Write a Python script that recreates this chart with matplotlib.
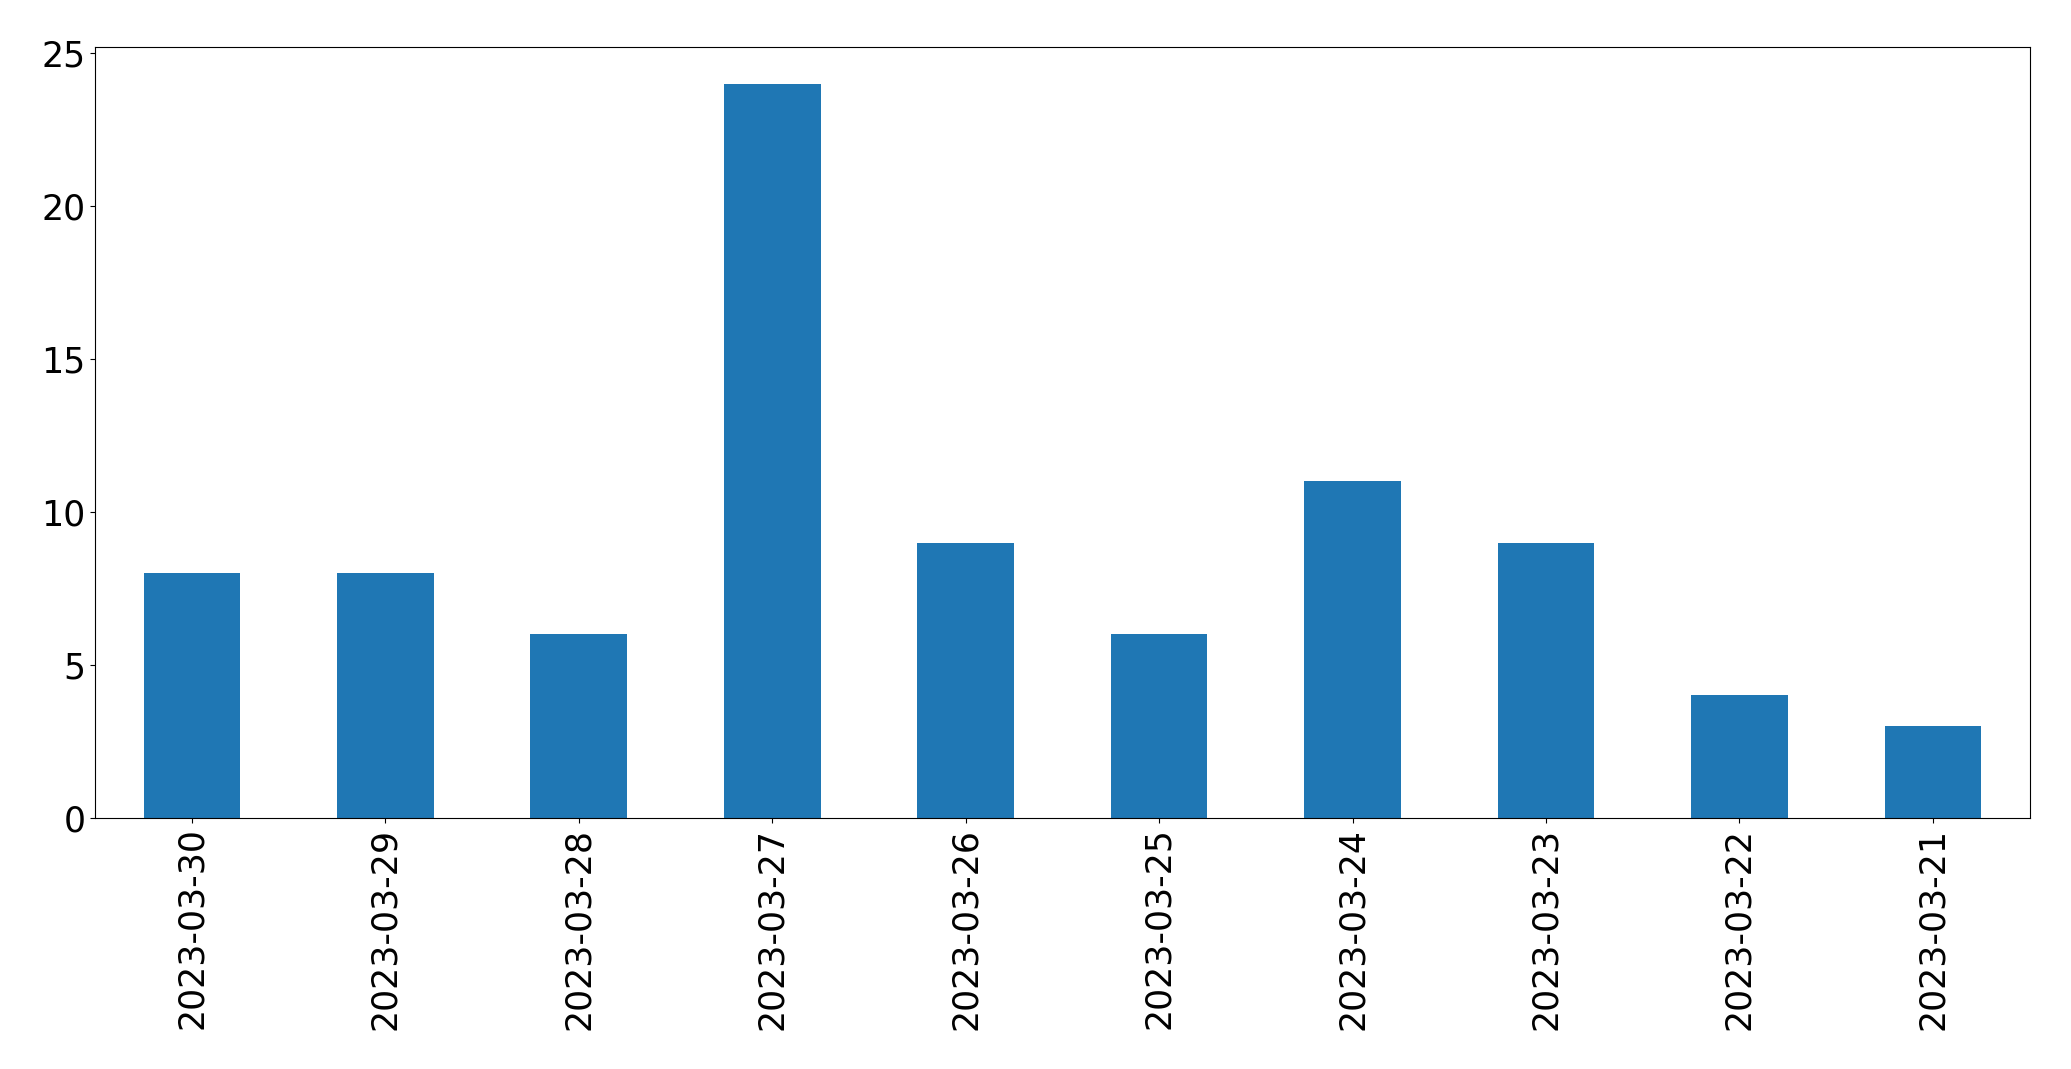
import matplotlib.pyplot as plt
import pandas as pd

# daily counts, newest first
dates = ['2023-03-30', '2023-03-29', '2023-03-28', '2023-03-27', '2023-03-26',
         '2023-03-25', '2023-03-24', '2023-03-23', '2023-03-22', '2023-03-21']
counts = [8, 8, 6, 24, 9, 6, 11, 9, 4, 3]

s = pd.Series(counts, index=dates)

fig = plt.figure(figsize=(20.71, 10.69), dpi=100)
ax = fig.add_subplot(111)
s.plot(kind='bar', ax=ax, color='#1f77b4', fontsize=25)
ax.set_yticks([0, 5, 10, 15, 20, 25])
ax.tick_params(axis='x', labelrotation=90)
fig.subplots_adjust(left=0.046, right=0.980, top=0.956, bottom=0.235)
plt.savefig('out.png', dpi=100)
